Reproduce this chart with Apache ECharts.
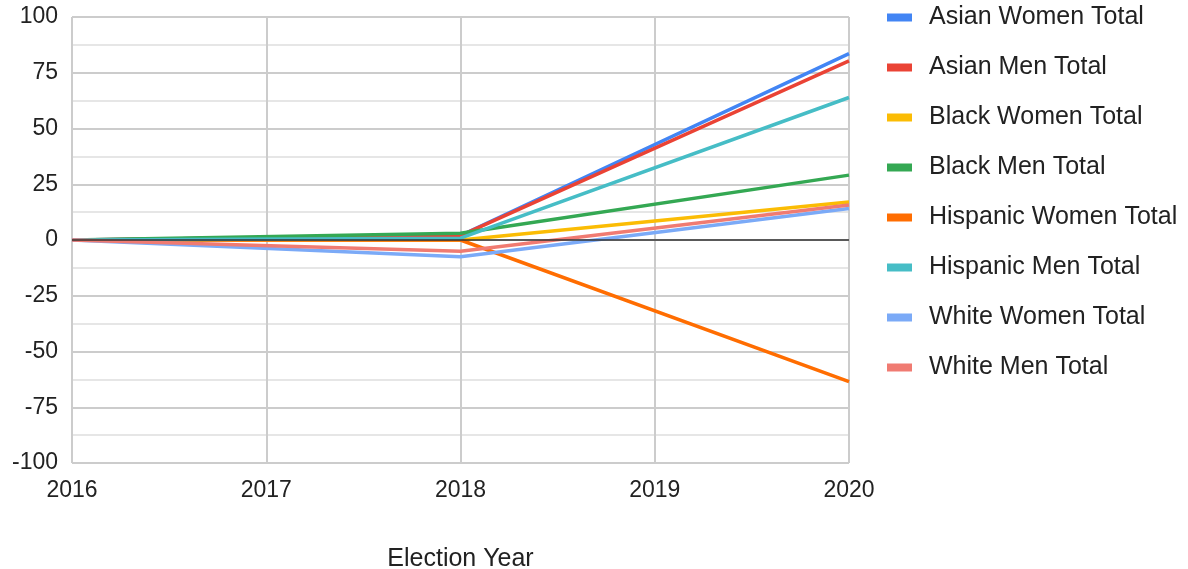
<!DOCTYPE html>
<html lang="en">
<head>
	<meta charset="UTF-8">
	<title>Election Year</title>
	<script src="https://cdn.jsdelivr.net/npm/echarts@6/dist/echarts.min.js"></script>
</head>
<body style="margin:0;background:#fff">
	<div id="app" style="width:1188px;height:569px"></div>
	<script>
		// election years and the change per group
		var years = [2016, 2018, 2020];
		var names = ["Asian Women Total", "Asian Men Total", "Black Women Total", "Black Men Total",
			"Hispanic Women Total", "Hispanic Men Total", "White Women Total", "White Men Total"];
		var asianWomen = [0, 2, 83.6];
		var asianMen = [0, 2, 80.3];
		var blackWomen = [0, 0, 17];
		var blackMen = [0, 3, 29.1];
		var hispanicWomen = [0, 0, -63.5];
		var hispanicMen = [0, 0.8, 63.9];
		var whiteWomen = [0, -7.5, 14.1];
		var whiteMen = [0, -5, 15.7];
		var colors = ["#4285f4", "#ea4335", "#fbbc04", "#34a853", "#ff6d01", "#46bdc6", "#7baaf7", "#f07b72"];

		var values = [asianWomen, asianMen, blackWomen, blackMen, hispanicWomen, hispanicMen, whiteWomen, whiteMen];
		var font = "Arial, 'Liberation Sans', sans-serif";

		var series = names.map(function (n, i) {
			var s = {
				name: n,
				type: "line",
				showSymbol: false,
				lineStyle: { width: 3.5, color: colors[i] },
				itemStyle: { color: colors[i] },
				data: years.map(function (y, j) { return [y, values[i][j]]; })
			};
			if (i === 0) {
				s.markLine = {//zero line
					silent: true,
					symbol: "none",
					label: { show: false },
					lineStyle: { color: "#333", width: 1.5, type: "solid" },
					data: [{ yAxis: 0 }]
				};
			}
			return s;
		});

		var myChart = echarts.init(document.getElementById('app'));
		var option = {
			animation: false,
			color: colors,
			textStyle: { fontFamily: font },
			grid: { left: 72, right: 339, top: 17, bottom: 106, outerBoundsMode: "none" },
			legend: {
				orient: "vertical",
				left: 882,
				top: 0,
				icon: "rect",
				itemWidth: 25,
				itemHeight: 8,
				itemGap: 25,
				textStyle: { fontSize: 25, color: "#222", padding: [0, 0, 0, 12], fontFamily: font },
				data: names
			},
			xAxis: {
				type: "value",
				min: 2016,
				max: 2020,
				interval: 1,
				name: "Election Year",
				nameLocation: "middle",
				nameGap: 84,
				nameTextStyle: { fontSize: 25, color: "#222", fontFamily: font },
				axisLine: { show: false, onZero: false },
				axisTick: { show: false },
				axisLabel: {
					fontSize: 23, color: "#222", margin: 16, fontFamily: font,
					formatter: function (v) { return String(v); }
				},
				splitLine: { show: true, lineStyle: { color: "#ccc", width: 2 } }
			},
			yAxis: {
				type: "value",
				min: -100,
				max: 100,
				interval: 25,
				axisLine: { show: false },
				axisTick: { show: false },
				axisLabel: { fontSize: 23, color: "#222", margin: 14, fontFamily: font },
				splitLine: { lineStyle: { color: "#ccc", width: 2 } },
				minorTick: { show: false, splitNumber: 2 },
				minorSplitLine: { show: true, lineStyle: { color: "#e6e6e6", width: 2 } }
			},
			series: series
		};
		myChart.setOption(option);
	</script>
</body>
</html>
